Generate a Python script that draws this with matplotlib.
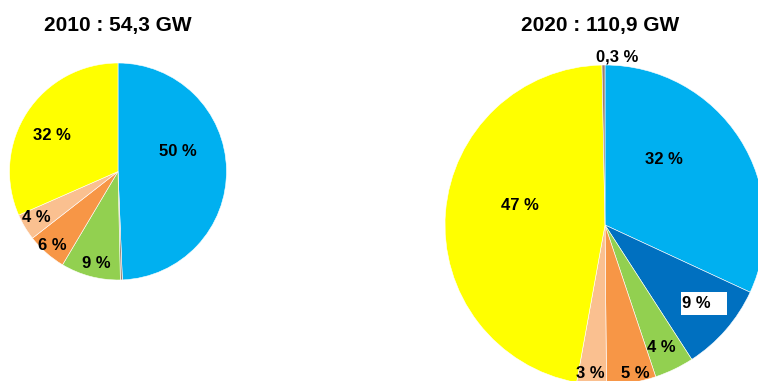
import matplotlib
matplotlib.use("Agg")
import matplotlib.pyplot as plt

plt.rcParams['font.family'] = ['Liberation Sans', 'DejaVu Sans']

# Capacity mix, share of total (%), clockwise from 12 o'clock
titles = ["2010 : 54,3 GW", "2020 : 110,9 GW"]

cats_2010 = ["Éolien terrestre", "Autre", "Biomasse", "Hydraulique", "Biogaz", "Solaire"]
vals_2010 = [50, 0.3, 9, 6, 4, 32]
labels_2010 = ["50 %", "", "9 %", "6 %", "4 %", "32 %"]

cats_2020 = ["Éolien terrestre", "Éolien en mer", "Biomasse", "Hydraulique", "Biogaz", "Solaire", "Autre"]
vals_2020 = [32, 9, 4, 5, 3, 47, 0.3]
labels_2020 = ["32 %", "9 %", "4 %", "5 %", "3 %", "47 %", "0,3 %"]

colors = {
    "Éolien terrestre": "#00B0F0",
    "Éolien en mer": "#0070C0",
    "Biomasse": "#92D050",
    "Hydraulique": "#F79646",
    "Biogaz": "#FAC090",
    "Solaire": "#FFFF00",
    "Autre": "#9A7F74",
}

W, H = 758, 381
fig = plt.figure(figsize=(W / 100, H / 100), dpi=100)
ax = fig.add_axes([0, 0, 1, 1])


def draw_pie(vals, cats, labels, center, radius, label_pos, ha=None):
    ax.pie(vals, colors=[colors[c] for c in cats], startangle=90,
           counterclock=False, center=center, radius=radius,
           wedgeprops=dict(edgecolor="white", linewidth=0.4),
           frame=True)
    ha = ha or {}
    for i, (lab, pos) in enumerate(zip(labels, label_pos)):
        if not lab:
            continue
        ax.text(pos[0], H - pos[1], lab, ha=ha.get(i, "center"), va="center",
                fontsize=12, fontweight="bold", color="black", zorder=6)


# 2010 pie
draw_pie(vals_2010, cats_2010, labels_2010, center=(118, H - 171.5), radius=108.5,
         label_pos=[(178, 151), None, (96, 263), (52, 245), (36, 218), (52, 135)])

# white box behind the offshore wind label
ax.add_patch(plt.Rectangle((681, H - 315), 46, 23, fc="white", ec="none", zorder=5))

# 2020 pie (runs past the bottom/right of the canvas)
draw_pie(vals_2020, cats_2020, labels_2020, center=(605, H - 225), radius=160,
         label_pos=[(664, 160), (682, 303), (661, 348), (635, 374), (590, 374),
                    (520, 206), (617, 57)],
         ha={1: "left"})

ax.text(118, H - 25, titles[0], ha="center", va="center", fontsize=15, fontweight="bold")
ax.text(600, H - 25, titles[1], ha="center", va="center", fontsize=15, fontweight="bold")

ax.set_xlim(0, W)
ax.set_ylim(0, H)
ax.set_aspect("auto")
ax.axis("off")

fig.savefig("out.png", dpi=100, facecolor="white")
